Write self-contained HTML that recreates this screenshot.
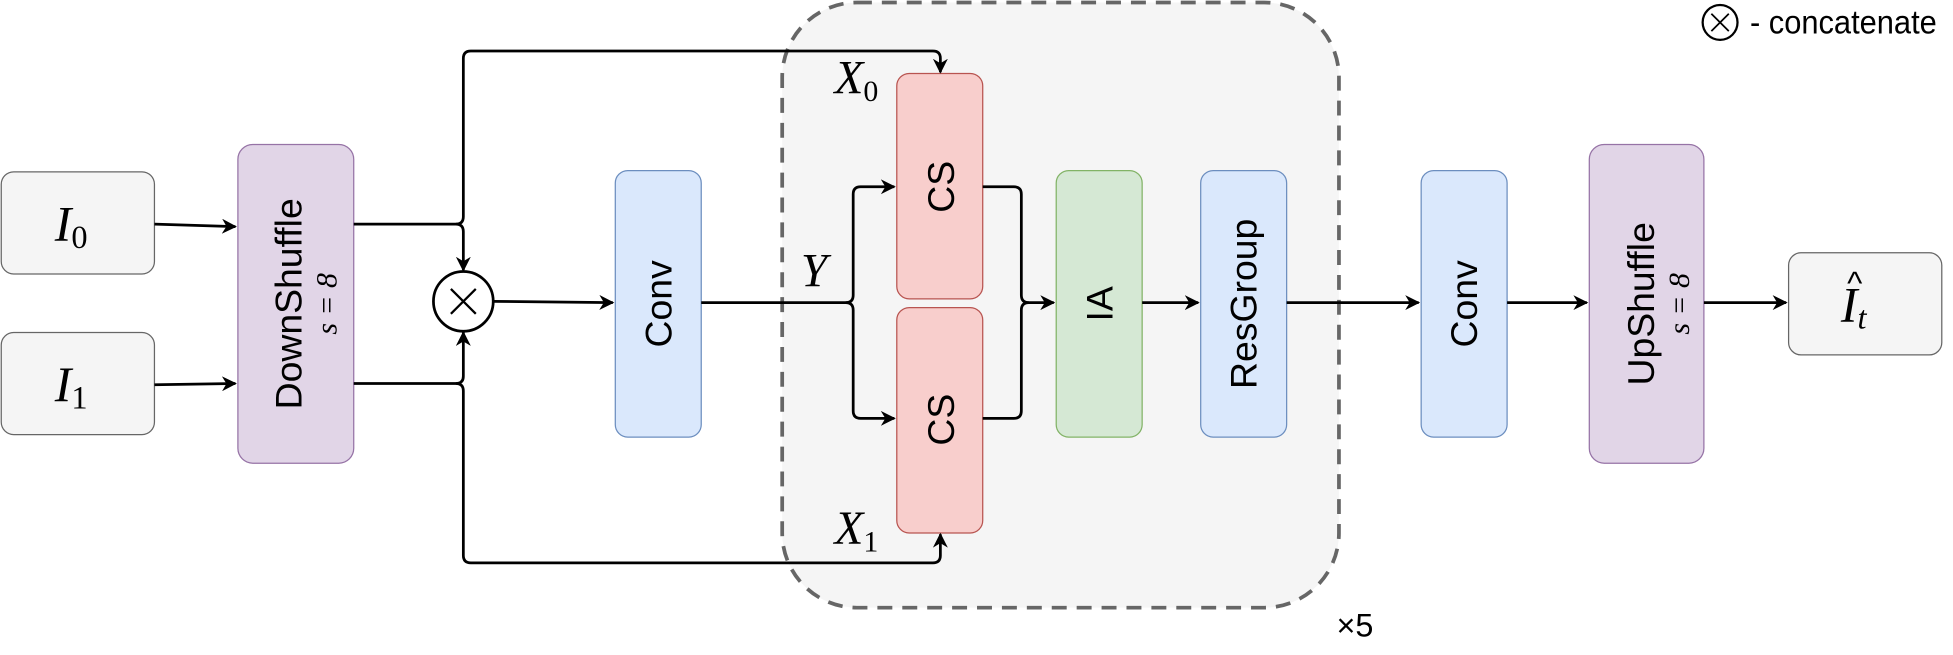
<!DOCTYPE html>
<html><head><style>html,body{margin:0;padding:0;background:#fff;}svg{display:block}</style></head>
<body>
<svg width="1953" height="655" viewBox="0 0 1568 526" preserveAspectRatio="none" xmlns="http://www.w3.org/2000/svg">
<defs>
<marker id="a" viewBox="0 0 10 10" refX="9" refY="5" markerWidth="12" markerHeight="12" orient="auto-start-reverse" markerUnits="userSpaceOnUse">
<path d="M0,0 L10,5 L0,10 L3,5 z" fill="#000"/></marker>
</defs>
<style>
text{font-family:"Liberation Sans",sans-serif;}
.m{font-family:"Liberation Serif",serif;font-style:italic;}
.l{fill:none;stroke:#000;stroke-width:2.2;}
</style>
<rect x="628" y="2" width="447" height="486" rx="60" fill="#f5f5f5" stroke="#666" stroke-width="3" stroke-dasharray="12,8"/>
<rect x="1" y="138" width="123" height="82" rx="10" fill="#f5f5f5" stroke="#666"/>
<rect x="1" y="267" width="123" height="82" rx="10" fill="#f5f5f5" stroke="#666"/>
<rect x="191" y="116" width="93" height="256" rx="12" fill="#e1d5e7" stroke="#9673a6"/>
<rect x="494" y="137" width="69" height="214" rx="10" fill="#dae8fc" stroke="#6c8ebf"/>
<rect x="720" y="59" width="69" height="181" rx="10" fill="#f8cecc" stroke="#b85450"/>
<rect x="720" y="247" width="69" height="181" rx="10" fill="#f8cecc" stroke="#b85450"/>
<rect x="848" y="137" width="69" height="214" rx="10" fill="#d5e8d4" stroke="#82b366"/>
<rect x="964" y="137" width="69" height="214" rx="10" fill="#dae8fc" stroke="#6c8ebf"/>
<rect x="1141" y="137" width="69" height="214" rx="10" fill="#dae8fc" stroke="#6c8ebf"/>
<rect x="1276" y="116" width="92" height="256" rx="12" fill="#e1d5e7" stroke="#9673a6"/>
<rect x="1436" y="203" width="123" height="82" rx="10" fill="#f5f5f5" stroke="#666"/>
<circle cx="372" cy="242" r="24" fill="#fff" stroke="#000" stroke-width="2.2"/>
<path d="M362,232 L382,252 M382,232 L362,252" stroke="#000" stroke-width="1.8"/>
<circle cx="1381" cy="18" r="14" fill="#fff" stroke="#000" stroke-width="1.8"/>
<path d="M1374,11 L1388,25 M1388,11 L1374,25" stroke="#000" stroke-width="1.4"/>
<text x="1405" y="27" font-size="27" textLength="150" lengthAdjust="spacingAndGlyphs">- concatenate</text>
<path class="l" d="M124,180 L189,182" marker-end="url(#a)"/>
<path class="l" d="M124,309 L189,308" marker-end="url(#a)"/>
<path class="l" d="M284,180 L366,180 Q372,180 372,174 L372,47 Q372,41 378,41 L749,41 Q755,41 755,47 L755,58" marker-end="url(#a)"/>
<path class="l" d="M366,180 Q372,180 372,186 L372,217" marker-end="url(#a)"/>
<path class="l" d="M284,308 L366,308 Q372,308 372,314 L372,446 Q372,452 378,452 L749,452 Q755,452 755,446 L755,429" marker-end="url(#a)"/>
<path class="l" d="M366,308 Q372,308 372,302 L372,267" marker-end="url(#a)"/>
<path class="l" d="M396,242 L492,243" marker-end="url(#a)"/>
<path class="l" d="M563,243 L679,243 Q685,243 685,237 L685,156 Q685,150 691,150 L718,150" marker-end="url(#a)"/>
<path class="l" d="M679,243 Q685,243 685,249 L685,330 Q685,336 691,336 L718,336" marker-end="url(#a)"/>
<path class="l" d="M789,150 L814,150 Q820,150 820,156 L820,237 Q820,243 826,243 L846,243" marker-end="url(#a)"/>
<path class="l" d="M789,336 L814,336 Q820,336 820,330 L820,249 Q820,243 826,243" />
<path class="l" d="M917,243 L962,243" marker-end="url(#a)"/>
<path class="l" d="M1033,243 L1139,243" marker-end="url(#a)"/>
<path class="l" d="M1210,243 L1274,243" marker-end="url(#a)"/>
<path class="l" d="M1368,243 L1434,243" marker-end="url(#a)"/>
<text class="m" x="44" y="193" font-size="40">I<tspan font-style="normal" font-size="26" dy="6">0</tspan></text>
<text class="m" x="44" y="322" font-size="40">I<tspan font-style="normal" font-size="26" dy="6">1</tspan></text>
<text class="m" x="1478" y="258" font-size="40">I<tspan font-size="26" dy="6">t</tspan></text>
<text x="1483" y="236" font-size="26" font-family="Liberation Serif">^</text>
<text class="m" x="670" y="75" font-size="38">X<tspan font-style="normal" font-size="24" dy="6">0</tspan></text>
<text class="m" x="670" y="437" font-size="38">X<tspan font-style="normal" font-size="24" dy="6">1</tspan></text>
<text class="m" x="643" y="230" font-size="38">Y</text>
<text x="1073" y="511" font-size="26" font-family="Liberation Serif">×5</text>
<g font-size="30" text-anchor="middle">
<text transform="translate(242,244) rotate(-90)">DownShuffle</text>
<text class="m" transform="translate(270,244) rotate(-90)" font-size="24">s = 8</text>
<text transform="translate(539,244) rotate(-90)">Conv</text>
<text transform="translate(766,150) rotate(-90)">CS</text>
<text transform="translate(766,337) rotate(-90)">CS</text>
<text transform="translate(893,244) rotate(-90)">IA</text>
<text transform="translate(1009,244) rotate(-90)">ResGroup</text>
<text transform="translate(1186,244) rotate(-90)">Conv</text>
<text transform="translate(1328,244) rotate(-90)">UpShuffle</text>
<text class="m" transform="translate(1356,244) rotate(-90)" font-size="24">s = 8</text>
</g>
</svg>
</body></html>
